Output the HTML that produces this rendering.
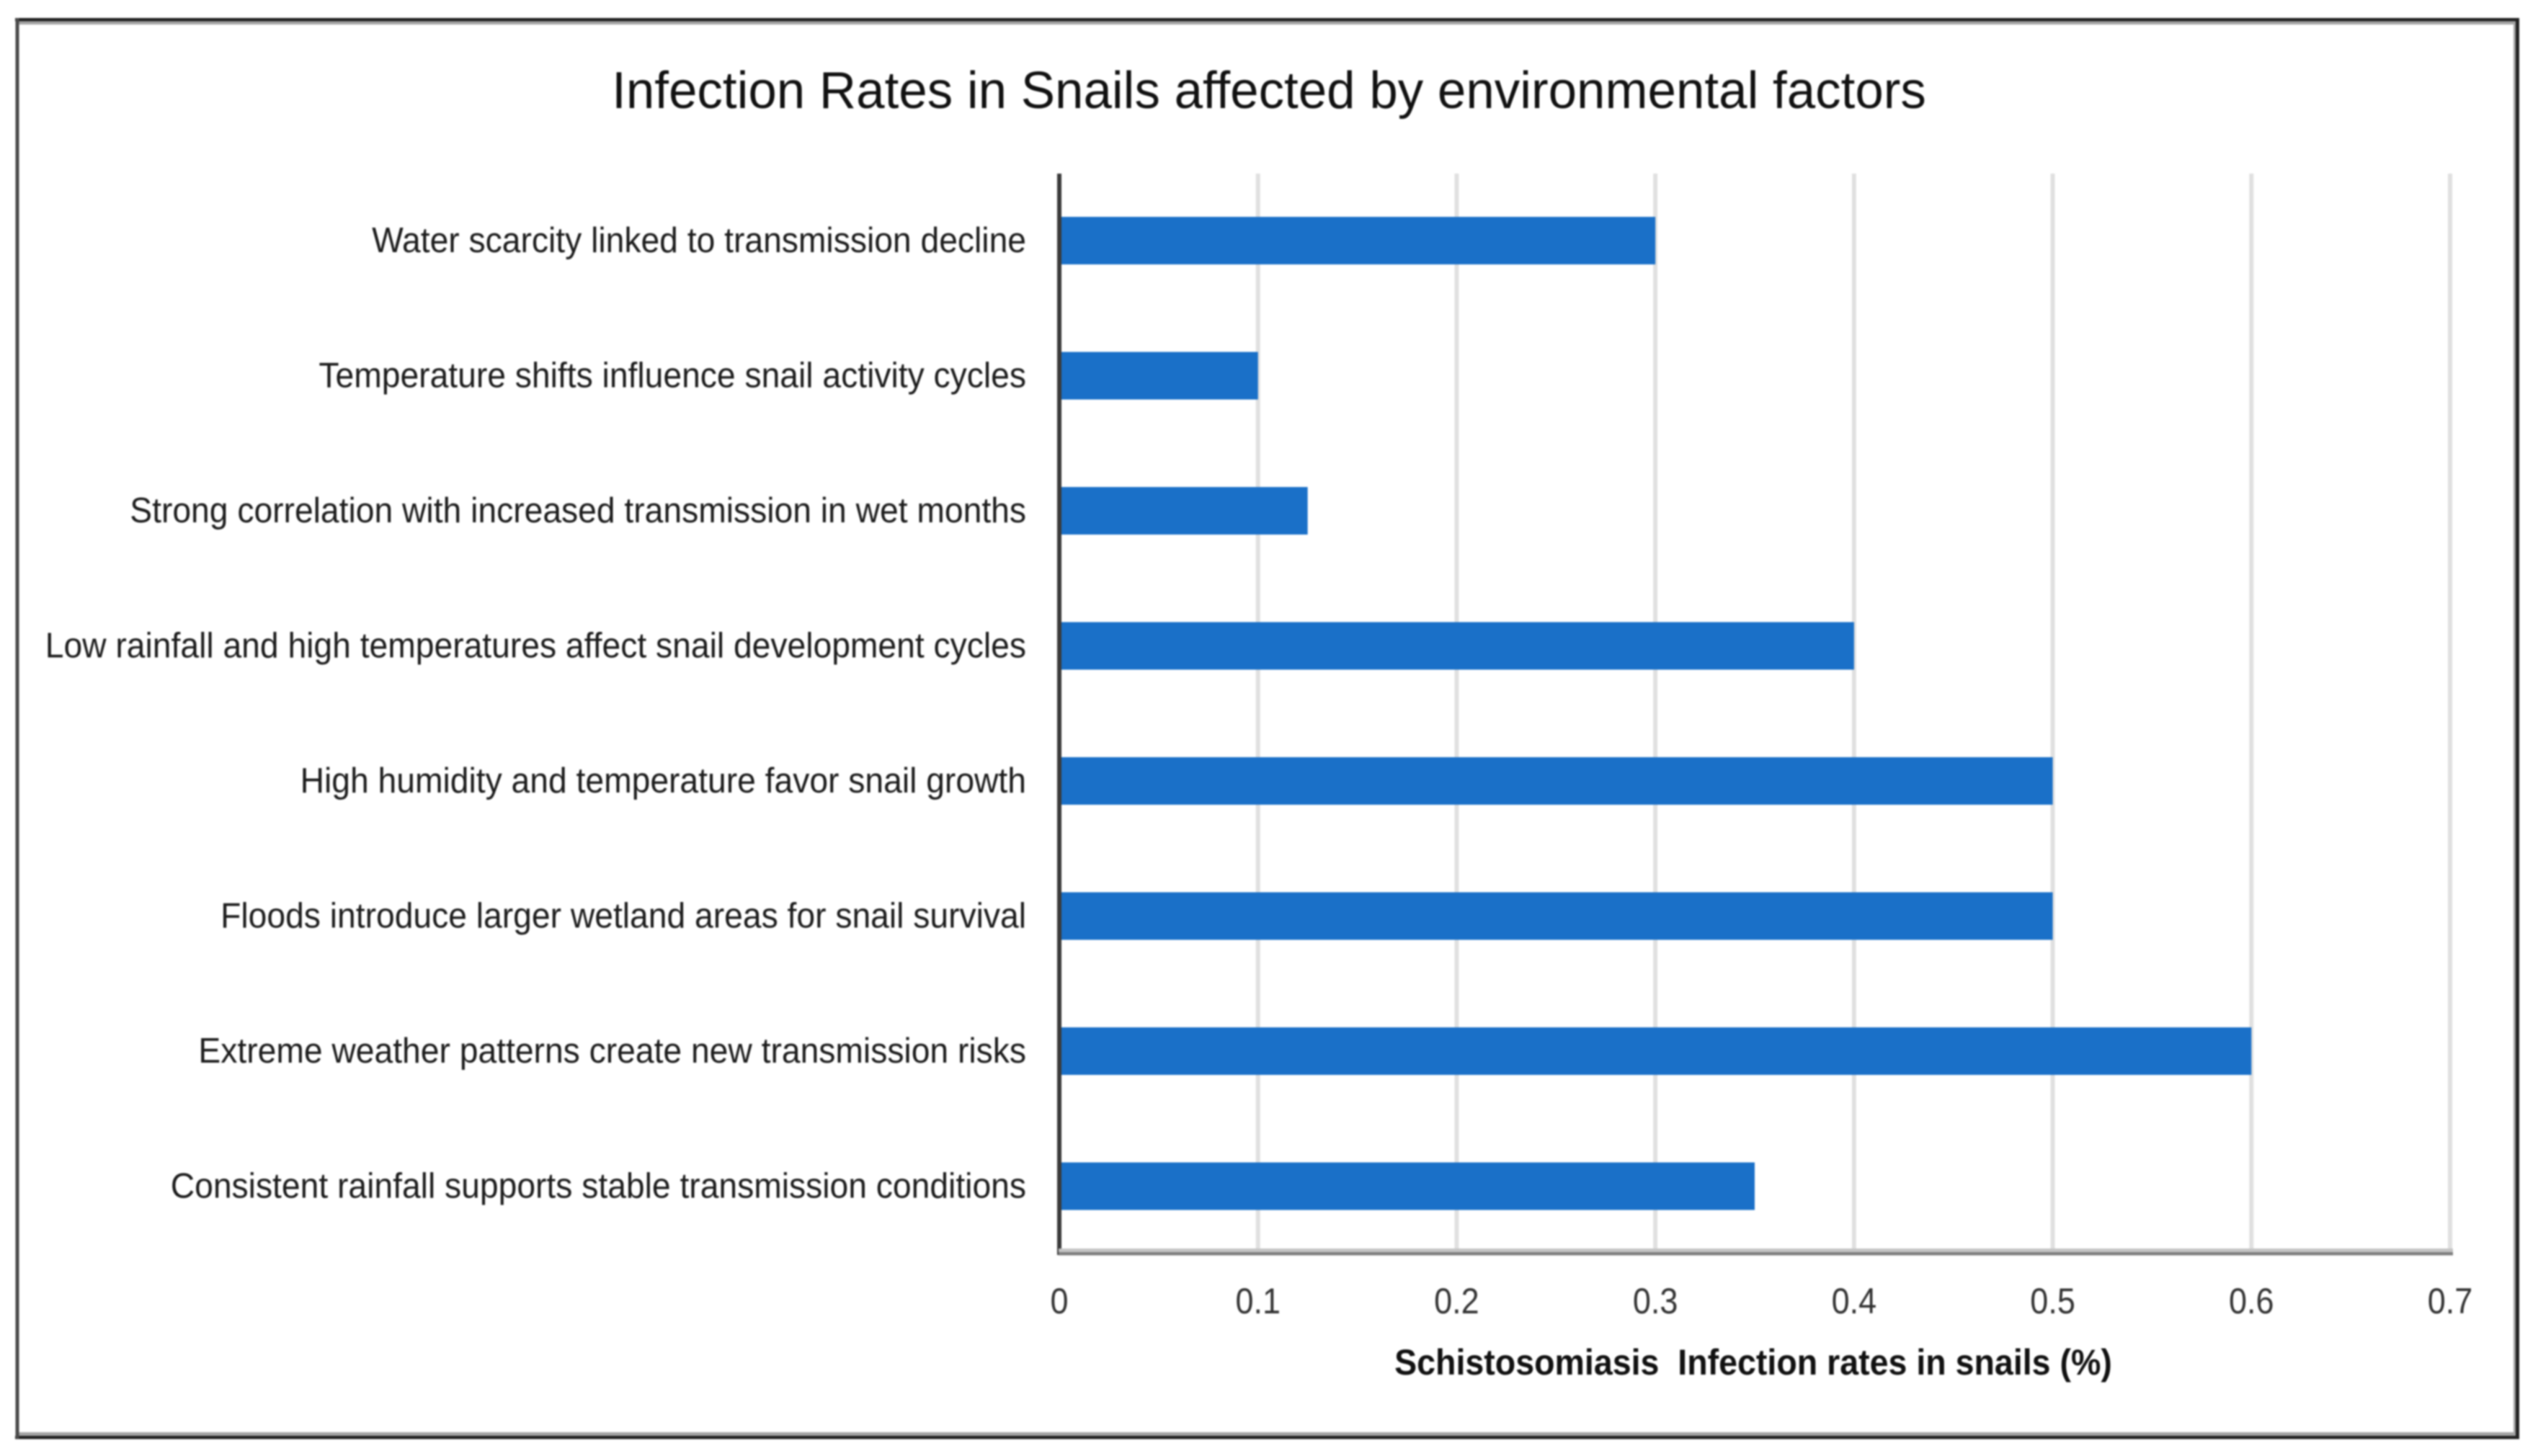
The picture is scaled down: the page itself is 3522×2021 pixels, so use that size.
<!DOCTYPE html>
<html lang="en">
<head>
<meta charset="utf-8">
<title>Infection Rates in Snails affected by environmental factors</title>
<style>
  html, body { margin: 0; padding: 0; background: #fff; }
  body { width: 3522px; height: 2021px; overflow: hidden; }
  svg { display: block; filter: blur(1.1px); }
  text { font-family: "Liberation Sans", sans-serif; white-space: pre; }
</style>
</head>
<body>
<svg id="chart" xmlns="http://www.w3.org/2000/svg" width="3522" height="2021" viewBox="0 0 3522 2021">
  <rect x="0" y="0" width="3522" height="2021" fill="#ffffff"/>
  <g>
    <rect x="24" y="29" width="3467" height="5" fill="#a3a3a3"/>
    <rect x="24" y="1988" width="3467" height="5" fill="#a3a3a3"/>
    <rect x="3488" y="29" width="3" height="1964" fill="#a3a3a3"/>
    <rect x="21" y="25" width="3475" height="4.5" fill="#222222"/>
    <rect x="21" y="1993" width="3475" height="4.5" fill="#222222"/>
    <rect x="21.5" y="25" width="5" height="1972" fill="#4a4a4a"/>
    <rect x="3491" y="25" width="5" height="1972" fill="#222222"/>
  </g>
  <g transform="translate(1761 150) scale(0.985 1)">
    <text x="0" y="0" font-size="72" text-anchor="middle" fill="#111111">Infection Rates in Snails affected by environmental factors</text>
  </g>
  <g id="grid"></g>
  <g id="bars"></g>
  <g id="yaxis"></g>
  <g id="xaxis"></g>
  <g transform="translate(2433 1908) scale(0.931 1)">
    <text x="0" y="0" font-size="50" font-weight="bold" text-anchor="middle" fill="#111111">Schistosomiasis  Infection rates in snails (%)</text>
  </g>
</svg>
<script>
const categories = [
  "Water scarcity linked to transmission decline",
  "Temperature shifts influence snail activity cycles",
  "Strong correlation with increased transmission in wet months",
  "Low rainfall and high temperatures affect snail development cycles",
  "High humidity and temperature favor snail growth",
  "Floods introduce larger wetland areas for snail survival",
  "Extreme weather patterns create new transmission risks",
  "Consistent rainfall supports stable transmission conditions"
];
const infectionRates = [0.3, 0.1, 0.125, 0.4, 0.5, 0.5, 0.6, 0.35];
const xTicks = [0, 0.1, 0.2, 0.3, 0.4, 0.5, 0.6, 0.7];

const NS = "http://www.w3.org/2000/svg";
const plotLeft = 1470, plotRight = 3400, plotTop = 241, plotBottom = 1740;
const xMax = 0.7;
const firstBandCenter = 334, bandStep = 187.5, barHeight = 66;

function xScale(v) { return plotLeft + (v / xMax) * (plotRight - plotLeft); }
function yCenter(i) { return firstBandCenter + i * bandStep; }
function make(tag, parent) {
  const el = document.createElementNS(NS, tag);
  parent.appendChild(el);
  return el;
}

const gridG = document.getElementById("grid");
const barsG = document.getElementById("bars");
const yG = document.getElementById("yaxis");
const xG = document.getElementById("xaxis");

xTicks.forEach(function (t) {
  if (t > 0) {
    const line = make("rect", gridG);
    
    
    line.setAttribute("x", xScale(t) - 3);
    line.setAttribute("y", plotTop);
    line.setAttribute("width", 6);
    line.setAttribute("height", plotBottom - plotTop);
    line.setAttribute("fill", "#e0e0e0");
  }
  const label = make("text", xG);
  
  
  label.setAttribute("transform", "translate(" + xScale(t) + " 1823) scale(0.9 1)");
  label.setAttribute("font-size", "50");
  label.setAttribute("text-anchor", "middle");
  label.setAttribute("fill", "#333333");
  label.textContent = String(t);
});

categories.forEach(function (name, i) {
  const bar = make("rect", barsG);
  
  
  bar.setAttribute("x", plotLeft);
  bar.setAttribute("y", yCenter(i) - barHeight / 2);
  bar.setAttribute("width", xScale(infectionRates[i]) - plotLeft);
  bar.setAttribute("height", barHeight);
  bar.setAttribute("fill", "#1a70c8");

  const label = make("text", yG);
  
  
  label.setAttribute("transform", "translate(1424 " + (yCenter(i) + 16) + ") scale(0.944 1)");
  label.setAttribute("font-size", "49");
  label.setAttribute("text-anchor", "end");
  label.setAttribute("fill", "#1c1c1c");
  label.textContent = name;
});

const yLine = make("rect", yG);


yLine.setAttribute("x", plotLeft - 3);
yLine.setAttribute("y", plotTop);
yLine.setAttribute("width", 6);
yLine.setAttribute("height", plotBottom - plotTop + 2);
yLine.setAttribute("fill", "#3a3a3a");

const xShadow = make("rect", xG);


xShadow.setAttribute("x", plotLeft - 1);
xShadow.setAttribute("y", 1733);
xShadow.setAttribute("width", plotRight - plotLeft + 5);
xShadow.setAttribute("height", 5);
xShadow.setAttribute("fill", "#c4c4c4");

const xLine = make("rect", xG);


xLine.setAttribute("x", plotLeft - 1);
xLine.setAttribute("y", 1738);
xLine.setAttribute("width", plotRight - plotLeft + 5);
xLine.setAttribute("height", 4.5);
xLine.setAttribute("fill", "#808080");
</script>
</body>
</html>
